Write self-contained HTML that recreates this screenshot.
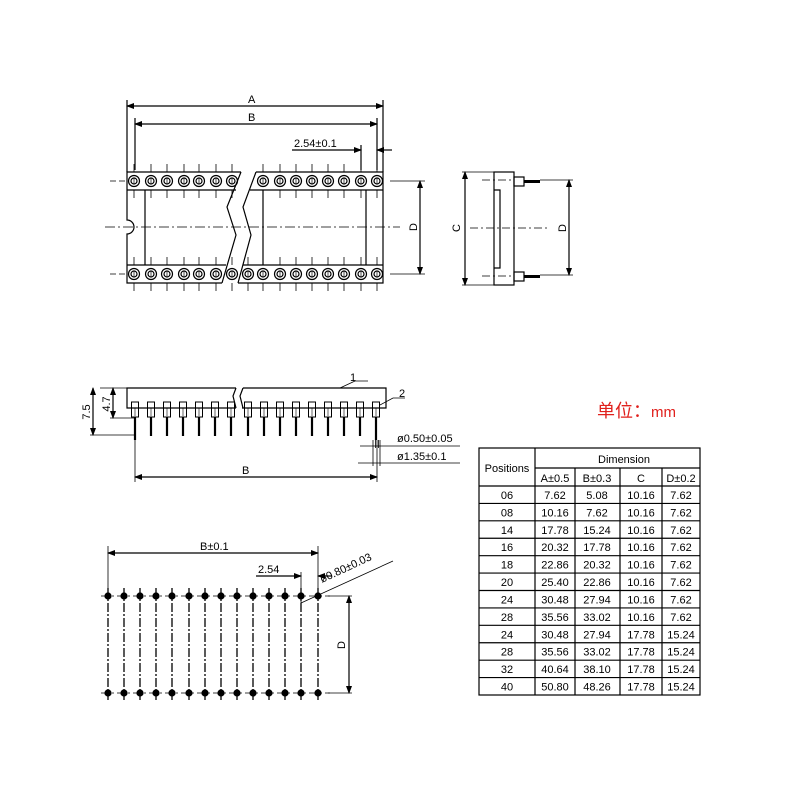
<!DOCTYPE html>
<html><head><meta charset="utf-8"><style>
html,body{margin:0;padding:0;background:#fff;}
svg{display:block;font-family:"Liberation Sans",sans-serif;}
</style></head><body>
<svg id="s" width="800" height="800" viewBox="0 0 800 800" xmlns="http://www.w3.org/2000/svg">
<defs><marker id="ar" markerWidth="8" markerHeight="6" refX="7" refY="3" orient="auto-start-reverse" markerUnits="userSpaceOnUse"><path d="M0,0 L8,3 L0,6 z" fill="#000"/></marker></defs>
<g stroke="#000" fill="none" stroke-width="1.2">
<line x1="127" y1="100" x2="127" y2="172"/><line x1="383" y1="100" x2="383" y2="172"/>
<line x1="127" y1="106" x2="383" y2="106" marker-start="url(#ar)" marker-end="url(#ar)"/>
<line x1="135" y1="118" x2="135" y2="170"/><line x1="377" y1="118" x2="377" y2="170"/>
<line x1="135" y1="124" x2="377" y2="124" marker-start="url(#ar)" marker-end="url(#ar)"/>
<line x1="361" y1="145" x2="361" y2="170"/>
<line x1="292" y1="150" x2="361" y2="150" marker-end="url(#ar)"/>
<line x1="392" y1="150" x2="377" y2="150" marker-end="url(#ar)"/>
<path d="M241,172 L127,172 L127,220 A7,7 0 0 1 127,234 L127,283 L222,283"/>
<line x1="127" y1="190" x2="236" y2="190"/><line x1="127" y1="265" x2="226" y2="265"/>
<path d="M241,172 L227,207 L236,235 L222,283"/>
<path d="M256,172 L383,172 L383,283 L238,283"/>
<line x1="250" y1="190" x2="383" y2="190"/><line x1="243" y1="265" x2="383" y2="265"/>
<path d="M256,172 L243,207 L251,235 L238,283"/>
<line x1="145" y1="190" x2="145" y2="265"/><line x1="366" y1="190" x2="366" y2="265"/><line x1="263" y1="190" x2="263" y2="265"/>
<line x1="105" y1="227" x2="400" y2="227" stroke-dasharray="10,3,2,3" stroke-width="0.8"/>
<line x1="390" y1="181" x2="425" y2="181" stroke-width="0.8"/><line x1="390" y1="274" x2="425" y2="274" stroke-width="0.8"/>
<line x1="420" y1="181" x2="420" y2="274" marker-start="url(#ar)" marker-end="url(#ar)"/>
<rect x="494" y="172" width="20" height="113"/>
<path d="M494,190 L500,190 L500,268 L494,268" />
<rect x="514" y="177" width="10" height="9"/><rect x="514" y="272" width="10" height="9"/>
<line x1="524" y1="181.5" x2="540" y2="181.5" stroke-width="3"/><line x1="524" y1="276.5" x2="540" y2="276.5" stroke-width="3"/>
<line x1="462" y1="172" x2="494" y2="172" stroke-width="0.8"/><line x1="462" y1="285" x2="494" y2="285" stroke-width="0.8"/>
<line x1="465" y1="172" x2="465" y2="285" marker-start="url(#ar)" marker-end="url(#ar)"/>
<line x1="540" y1="180" x2="573" y2="180" stroke-width="0.8"/><line x1="540" y1="275" x2="573" y2="275" stroke-width="0.8"/>
<line x1="569" y1="180" x2="569" y2="275" marker-start="url(#ar)" marker-end="url(#ar)"/>
<line x1="470" y1="228" x2="550" y2="228" stroke-dasharray="8,3,2,3" stroke-width="0.8"/>
<line x1="482" y1="180" x2="514" y2="180" stroke-dasharray="8,3,2,3" stroke-width="0.8"/>
<line x1="482" y1="276" x2="514" y2="276" stroke-dasharray="8,3,2,3" stroke-width="0.8"/>
<path d="M236,388 L127,388 L127,408 L236,408"/>
<path d="M243,388 L386,388 L386,408 L242,408"/>
<path d="M236,388 L233,396 L236,408"/><path d="M243,388 L240,396 L243,408"/>
<line x1="100" y1="388" x2="127" y2="388" stroke-width="0.8"/>
<line x1="110" y1="418" x2="135" y2="418" stroke-width="0.8"/>
<line x1="90" y1="435" x2="135" y2="435" stroke-width="0.8"/>
<line x1="113" y1="388" x2="113" y2="418" marker-start="url(#ar)" marker-end="url(#ar)"/>
<line x1="93" y1="388" x2="93" y2="435" marker-start="url(#ar)" marker-end="url(#ar)"/>
<path d="M340,388 L355,381 L368,381" stroke-width="0.8"/>
<path d="M380,405 L393,398 L405,398" stroke-width="0.8"/>
<line x1="135" y1="440" x2="135" y2="482" stroke-width="0.8"/><line x1="377" y1="440" x2="377" y2="482" stroke-width="0.8"/>
<line x1="135" y1="477" x2="377" y2="477" marker-start="url(#ar)" marker-end="url(#ar)"/>
<line x1="373" y1="440" x2="373" y2="466" stroke-width="0.8"/><line x1="380" y1="440" x2="380" y2="466" stroke-width="0.8"/>
<line x1="375.5" y1="440" x2="375.5" y2="448" stroke-width="0.8"/><line x1="378.5" y1="440" x2="378.5" y2="448" stroke-width="0.8"/>
<line x1="360" y1="446" x2="460" y2="446" stroke-width="0.8"/>
<line x1="358" y1="463" x2="460" y2="463" stroke-width="0.8"/>
<line x1="108" y1="546" x2="108" y2="596" stroke-width="0.8"/><line x1="318" y1="546" x2="318" y2="596" stroke-width="0.8"/>
<line x1="108" y1="553" x2="318" y2="553" marker-start="url(#ar)" marker-end="url(#ar)"/>
<line x1="301" y1="572" x2="301" y2="610" stroke-width="0.8"/>
<line x1="256" y1="576" x2="301" y2="576" marker-end="url(#ar)"/>
<line x1="332" y1="576" x2="318" y2="576" marker-end="url(#ar)"/>
<line x1="101" y1="596" x2="330" y2="596" stroke-dasharray="8,3,2,3" stroke-width="0.8"/>
<line x1="101" y1="693" x2="330" y2="693" stroke-dasharray="8,3,2,3" stroke-width="0.8"/>
<line x1="328" y1="596" x2="352" y2="596" stroke-width="0.8"/><line x1="328" y1="693" x2="352" y2="693" stroke-width="0.8"/>
<line x1="349" y1="596" x2="349" y2="693" marker-start="url(#ar)" marker-end="url(#ar)"/>
<line x1="301" y1="603" x2="393" y2="561" stroke-width="0.8"/>
<rect x="479" y="448" width="221" height="247"/>
<line x1="535" y1="448" x2="535" y2="695"/>
<line x1="535" y1="468" x2="700" y2="468"/>
<line x1="575" y1="468" x2="575" y2="695"/><line x1="620" y1="468" x2="620" y2="695"/><line x1="662" y1="468" x2="662" y2="695"/>
<g id="tl"></g>
<g id="pins"></g>
</g>
<g font-size="11" fill="#000">
<text x="248" y="103">A</text><text x="248" y="121">B</text><text x="294" y="147">2.54±0.1</text>
<text transform="translate(417,227) rotate(-90)" text-anchor="middle">D</text>
<text transform="translate(460,228) rotate(-90)" text-anchor="middle">C</text>
<text transform="translate(566,228) rotate(-90)" text-anchor="middle">D</text>
<text transform="translate(110,404) rotate(-90)" text-anchor="middle">4.7</text>
<text transform="translate(90,412) rotate(-90)" text-anchor="middle">7.5</text>
<text x="350" y="381">1</text><text x="399" y="397">2</text>
<text x="397" y="442">ø0.50±0.05</text><text x="397" y="460">ø1.35±0.1</text>
<text x="242" y="474">B</text>
<text x="200" y="550">B±0.1</text><text x="258" y="573">2.54</text>
<text transform="translate(322,583) rotate(-25)">ø0.80±0.03</text>
<text transform="translate(345,645) rotate(-90)" text-anchor="middle">D</text>
<text x="597" y="417" font-size="18" fill="#e0201c" font-family="'Liberation Sans','Noto Sans CJK SC',sans-serif">单位：<tspan font-size="15">mm</tspan></text>
<g font-size="11" text-anchor="middle" id="tt">
<text x="507" y="472">Positions</text><text x="624" y="463">Dimension</text>
<text x="555" y="482">A±0.5</text><text x="597" y="482">B±0.3</text><text x="641" y="482">C</text><text x="681" y="482">D±0.2</text>
</g>
</g>
</svg>
<script>
var NS="http://www.w3.org/2000/svg",P=document.getElementById("pins"),T=document.getElementById("tl"),TT=document.getElementById("tt");
function el(n,a,p){var e=document.createElementNS(NS,n);for(var k in a)e.setAttribute(k,a[k]);(p||P).appendChild(e);return e;}
var topL=[134,151,167,184,199,216,232],topR=[263,280,296,312,328,344,361,377];
var botL=[134,151,167,184,199,216],botR=[232,248,263,280,296,312,328,344,361,377];
function pin(x,y){el("circle",{cx:x,cy:y,r:5.5});el("circle",{cx:x,cy:y,r:3});el("line",{x1:x,y1:y-3,x2:x,y2:y+3,"stroke-width":0.7});el("line",{x1:x,y1:y-17,x2:x,y2:y-9,"stroke-width":0.8});el("line",{x1:x,y1:y+9,x2:x,y2:y+17,"stroke-width":0.8});}
topL.concat(topR).forEach(function(x){pin(x,181);});
botL.concat(botR).forEach(function(x){pin(x,274);});
el("line",{x1:110,y1:181,x2:127,y2:181,"stroke-dasharray":"6,3","stroke-width":0.8});
el("line",{x1:110,y1:274,x2:127,y2:274,"stroke-dasharray":"6,3","stroke-width":0.8});
var ex=[135,151,167,183,199,215,231,248,264,280,296,312,328,344,360,376];
ex.forEach(function(x,i){el("rect",{x:x-3.5,y:402,width:7,height:15,"stroke-width":1});el("line",{x1:x,y1:408,x2:x,y2:416,"stroke-width":0.6});el("line",{x1:x,y1:417,x2:x,y2:i==0||i==15?440:436,"stroke-width":2.2});});
var fx=[108,124,140,156,172,189,205,221,237,253,269,285,301,318];
fx.forEach(function(x){el("line",{x1:x,y1:588,x2:x,y2:700,"stroke-dasharray":"9,2,2,2","stroke-width":1.3});el("circle",{cx:x,cy:596,r:3,fill:"#000"});el("circle",{cx:x,cy:693,r:3,fill:"#000"});});
var rows=[["06","7.62","5.08","10.16","7.62"],["08","10.16","7.62","10.16","7.62"],["14","17.78","15.24","10.16","7.62"],["16","20.32","17.78","10.16","7.62"],["18","22.86","20.32","10.16","7.62"],["20","25.40","22.86","10.16","7.62"],["24","30.48","27.94","10.16","7.62"],["28","35.56","33.02","10.16","7.62"],["24","30.48","27.94","17.78","15.24"],["28","35.56","33.02","17.78","15.24"],["32","40.64","38.10","17.78","15.24"],["40","50.80","48.26","17.78","15.24"]];
var y0=486,h=(695-486)/12,cx=[507,555,597,641,681];
el("line",{x1:479,y1:486,x2:700,y2:486},T);
rows.forEach(function(r,i){var y=y0+h*(i+1);if(i<11)el("line",{x1:479,y1:y,x2:700,y2:y},T);r.forEach(function(v,j){var t=el("text",{x:cx[j],y:y-4.5},TT);t.textContent=v;});});
</script>
</body></html>
